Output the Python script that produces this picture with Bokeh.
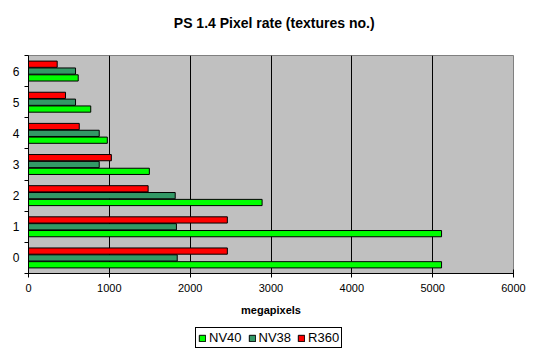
from bokeh.plotting import figure
from bokeh.models import ColumnDataSource, FixedTicker, Legend, LegendItem, Label
from bokeh.layouts import column
from bokeh.transform import dodge
from bokeh.embed import file_html
from bokeh.resources import INLINE

textures = [0, 1, 2, 3, 4, 5, 6]
tick_labels = ["0", "1", "2", "3", "4", "5", "6"]
series_names = ["NV40", "NV38", "R360"]
nv40 = [5110, 5110, 2890, 1495, 975, 770, 615]
nv38 = [1840, 1830, 1815, 875, 875, 582, 582]
r360 = [2460, 2460, 1480, 1025, 628, 458, 355]
colors = ["#00FF00", "#339966", "#FF0000"]

src = ColumnDataSource(dict(y=textures, nv40=nv40, nv38=nv38, r360=r360))

# title figure
tf = figure(width=535, height=40, output_backend="svg", toolbar_location=None,
            x_range=(0, 535), y_range=(0, 40), min_border=0)
tf.axis.visible = False
tf.grid.visible = False
tf.outline_line_color = None
tf.border_fill_color = "white"
tf.background_fill_color = "white"
tf.add_layout(Label(x=271, y=18, text="PS 1.4 Pixel rate (textures no.)",
                    text_align="center", text_baseline="middle",
                    text_font="Liberation Sans", text_font_style="bold",
                    text_font_size="14px", text_color="black"))

p = figure(width=535, height=278, output_backend="svg", toolbar_location=None,
           x_range=(0, 6000), y_range=(-0.5, 6.5),
           min_border_left=28, min_border_right=22, min_border_top=15, min_border_bottom=5)
p.title = None
p.background_fill_color = "#C0C0C0"
p.border_fill_color = "white"
p.outline_line_color = "#808080"
p.outline_line_width = 1

h = 0.2
offsets = [-0.22, 0.0, 0.22]
fields = ["nv40", "nv38", "r360"]
for f, off, c in zip(fields, offsets, colors):
    p.hbar(y=dodge("y", off, range=p.y_range), right=f, left=0, height=h, source=src,
           fill_color=c, line_color="black", line_width=1)

p.xgrid.grid_line_color = "black"
p.xgrid.grid_line_width = 1
p.ygrid.grid_line_color = None

p.xaxis.ticker = FixedTicker(ticks=[0, 1000, 2000, 3000, 4000, 5000, 6000])
p.xaxis.major_tick_in = 4
p.xaxis.major_tick_out = 4
p.xaxis.minor_tick_line_color = None
p.xaxis.axis_line_color = "black"
p.xaxis.major_label_text_font = "Liberation Sans"
p.xaxis.major_label_text_font_size = "11px"
p.xaxis.major_label_text_color = "black"
p.xaxis.major_label_standoff = 6
p.xaxis.axis_label = "megapixels"
p.xaxis.axis_label_text_font = "Liberation Sans"
p.xaxis.axis_label_text_font_style = "bold"
p.xaxis.axis_label_text_font_size = "11px"
p.xaxis.axis_label_text_color = "black"
p.xaxis.axis_label_standoff = 9

p.yaxis.ticker = FixedTicker(ticks=textures, minor_ticks=[-0.5 + i for i in range(8)])
p.yaxis.major_label_overrides = {t: l for t, l in zip(textures, tick_labels)}
p.yaxis.major_tick_in = 0
p.yaxis.major_tick_out = 0
p.yaxis.minor_tick_in = 0
p.yaxis.minor_tick_out = 4
p.yaxis.minor_tick_line_color = "black"
p.yaxis.axis_line_color = "black"
p.yaxis.major_label_text_font = "Liberation Sans"
p.yaxis.major_label_text_font_size = "12px"
p.yaxis.major_label_text_color = "black"
p.yaxis.major_label_standoff = 5

# legend figure
lg = figure(width=535, height=36, output_backend="svg", toolbar_location=None,
            x_range=(0, 1), y_range=(0, 1), min_border=0)
lg.axis.visible = False
lg.grid.visible = False
lg.outline_line_color = None
lg.background_fill_color = "white"
lg.border_fill_color = "white"
items = []
for name, c in zip(series_names, colors):
    r = lg.rect(x=[5], y=[5], width=0.1, height=0.1, fill_color=c, line_color="black")
    items.append(LegendItem(label=name, renderers=[r]))
legend = Legend(items=items, orientation="horizontal", location=(167, 6),
                border_line_color="black", border_line_width=1, border_line_alpha=1,
                label_text_font="Liberation Sans", label_text_font_size="13px",
                label_text_color="black",
                glyph_width=8, glyph_height=8, label_standoff=3, spacing=6,
                padding=2, margin=0, label_height=14)
lg.add_layout(legend, "center")

layout = column(tf, p, lg, spacing=0)
open("out.html", "w").write(file_html(layout, INLINE))
